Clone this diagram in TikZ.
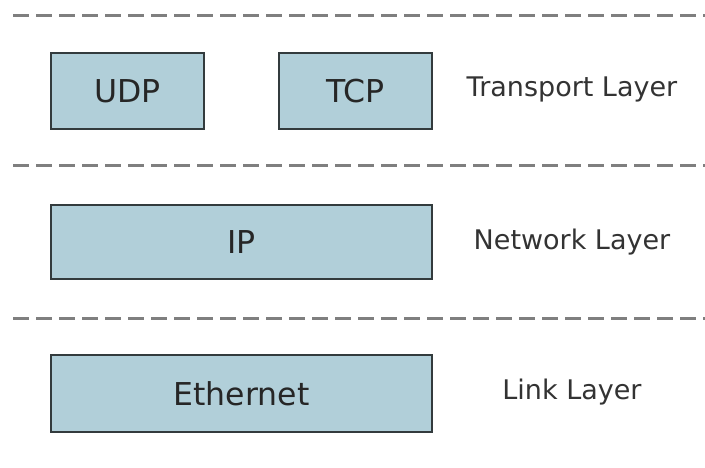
\documentclass[tikz,border=0pt]{standalone}
\usepackage{fontspec}
\setmainfont{DejaVu Sans}
\definecolor{boxfill}{HTML}{B1CFD9}
\definecolor{boxline}{HTML}{333B3D}
\definecolor{sepline}{HTML}{7F7F7F}

\begin{document}
\begin{tikzpicture}[x=1pt,y=-1pt,
  proto/.style={rectangle, draw=boxline, line width=2pt, fill=boxfill, inner sep=0pt,
    text=black!85, font=\fontsize{31.5}{36}\selectfont},
  layer/.style={text=black!80, font=\fontsize{27}{32}\selectfont},
  sep/.style={draw=sepline, line width=3pt, dash pattern=on 16pt off 7pt}]
  \useasboundingbox (0,0) rectangle (705,467);

  % separators
  \draw[sep] (13,15) -- (705,15);
  \draw[sep] (13,165) -- (705,165);
  \draw[sep] (13,318) -- (705,318);

  % transport layer
  \node[proto, minimum width=153pt, minimum height=76pt] (udp) at (127.5,91) {UDP};
  \node[proto, minimum width=153pt, minimum height=76pt] (tcp) at (355.5,91) {TCP};
  \node[layer] (tl) at (572,89) {Transport Layer};

  % network layer
  \node[proto, minimum width=381pt, minimum height=74pt] (ip) at (241.5,242) {IP};
  \node[layer] (nl) at (572,242) {Network Layer};

  % link layer
  \node[proto, minimum width=381pt, minimum height=77pt] (eth) at (241.5,393.5) {Ethernet};
  \node[layer] (ll) at (572,392) {Link Layer};
\end{tikzpicture}
\end{document}
